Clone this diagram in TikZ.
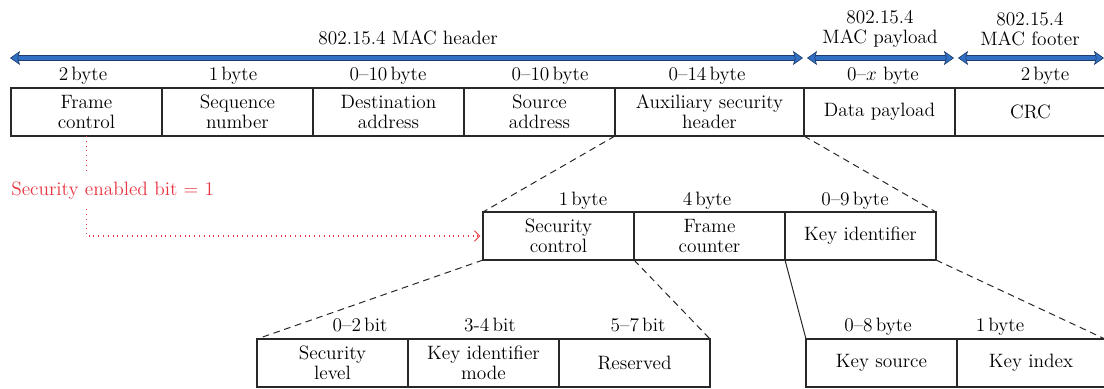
\documentclass[tikz,border=0pt]{standalone}
\usepackage{fontspec}
\usetikzlibrary{arrows.meta,positioning}
\definecolor{barblue}{RGB}{48,112,196}
\definecolor{barline}{RGB}{30,60,110}
\definecolor{secred}{RGB}{232,52,64}
\definecolor{gridline}{RGB}{40,40,40}
\newcommand{\labfont}{\fontsize{14.5}{15}\selectfont}
\tikzset{
  field/.style={draw=gridline, line width=0.9pt, minimum width=113.25pt,
    minimum height=36pt, inner sep=0pt, outer sep=0pt, align=center, font=\labfont},
  size/.style={anchor=base, inner sep=0pt, font=\labfont},
  title/.style={inner sep=0pt, align=center, font=\labfont},
  bar/.style={draw=barline, double=barblue, double distance=2.8pt, line width=0.5pt,
    {Stealth[length=7.5pt,width=10.5pt,inset=1.5pt,fill=barblue,color=barline]}-{Stealth[length=7.5pt,width=10.5pt,inset=1.5pt,fill=barblue,color=barline]}},
  zoomline/.style={draw=gridline, line width=0.75pt, dash pattern=on 5pt off 3.5pt},
  flag/.style={draw=secred, line width=0.8pt, dash pattern=on 0.8pt off 2.8pt}
}
\begin{document}
\begin{tikzpicture}[x=0.75pt,y=-0.75pt]
  \useasboundingbox (0,0) rectangle (1104,389);
  % MAC frame
  \node[field, anchor=north west] (fc) at (11,88) {Frame\\control};
  \node[field, right=0pt of fc] (seq) {Sequence\\number};
  \node[field, right=0pt of seq] (dst) {Destination\\address};
  \node[field, right=0pt of dst] (src) {Source\\address};
  \node[field, right=0pt of src, minimum width=141.75pt] (aux) {Auxiliary security\\header};
  \node[field, right=0pt of aux] (pay) {Data payload};
  \node[field, right=0pt of pay] (crc) {CRC};
  \node[size] (fcsz) at (83,80) {2\,byte};
  \node[size] (seqsz) at (233,80) {1\,byte};
  \node[size] (dstsz) at (388,80) {0--10\,byte};
  \node[size] (srcsz) at (550,80) {0--10\,byte};
  \node[size] (auxsz) at (707,80) {0--14\,byte};
  \node[size] (paysz) at (883,80) {0--$x$ byte};
  \node[size] (crcsz) at (1045,80) {2\,byte};
  % extents
  \coordinate (hl) at (10,58);
  \coordinate (hr) at (803,58);
  \coordinate (pl) at (807,58);
  \coordinate (pr) at (954,58);
  \coordinate (tl) at (958,58);
  \coordinate (tr) at (1104,58);
  \draw[bar] (hl) -- (hr);
  \draw[bar] (pl) -- (pr);
  \draw[bar] (tl) -- (tr);
  \node[title] (hdr) at (408,38) {802.15.4 MAC header};
  \node[title] (plt) at (880,29) {802.15.4\\MAC payload};
  \node[title] (ftt) at (1030,29) {802.15.4\\MAC footer};
  % auxiliary security header
  \node[field, anchor=north west] (sc) at (483,212) {Security\\control};
  \node[field, right=0pt of sc] (cnt) {Frame\\counter};
  \node[field, right=0pt of cnt] (ki) {Key identifier};
  \node[size] (scsz) at (583,205) {1\,byte};
  \node[size] (cntsz) at (707,205) {4\,byte};
  \node[size] (kisz) at (855,205) {0--9\,byte};
  % security control
  \node[field, anchor=north west] (sl) at (257,339) {Security\\level};
  \node[field, right=0pt of sl] (kim) {Key identifier\\mode};
  \node[field, right=0pt of kim] (rsv) {Reserved};
  \node[size] (slsz) at (360,331) {0--2\,bit};
  \node[size] (kimsz) at (490,331) {3-4\,bit};
  \node[size] (rsvsz) at (638,331) {5--7\,bit};
  % key identifier
  \node[field, anchor=north west] (ks) at (806,339) {Key source};
  \node[field, right=0pt of ks, minimum width=111pt] (kx) {Key index};
  \node[size] (kssz) at (878,331) {0--8\,byte};
  \node[size] (kxsz) at (1000,331) {1\,byte};
  % zoom lines
  \draw[zoomline] (aux.south west) -- (sc.north west);
  \draw[zoomline] (aux.south east) -- (ki.north east);
  \draw[zoomline] (sc.south west) -- (sl.north west);
  \draw[zoomline] (sc.south east) -- (rsv.north east);
  \draw[draw=gridline, line width=0.75pt] (ki.south west) -- (ks.north west);
  \draw[zoomline] (ki.south east) -- (kx.north east);
  % security enabled
  \node[anchor=base west, inner xsep=0pt, inner ysep=7.5pt, text=secred, font=\labfont] (sen) at (11,195) {Security enabled bit $=$ 1};
  \draw[flag] (fc.south) -- (fc.south |- sen.north);
  \draw[flag, -{Straight Barb[length=4pt,width=8pt,line width=0.7pt]}, shorten >=2pt] (fc.south |- sen.south) |- (sc.west);
\end{tikzpicture}
\end{document}
